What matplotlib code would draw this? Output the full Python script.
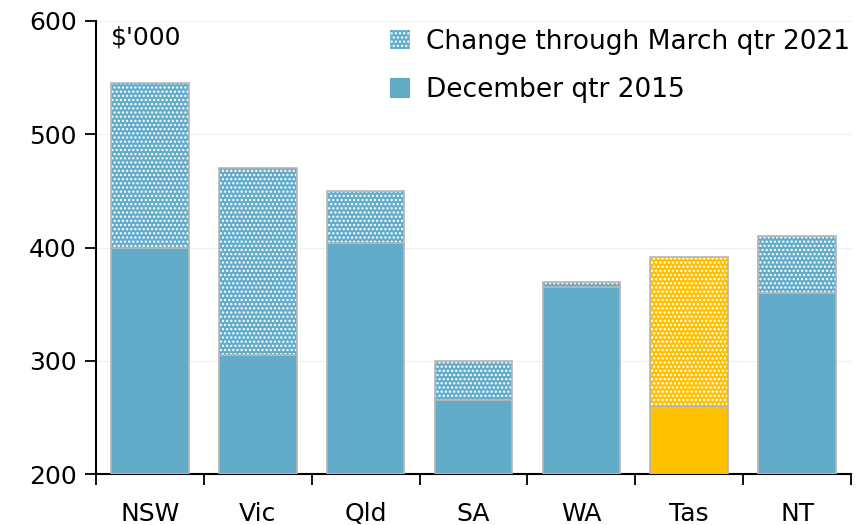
import numpy as np
import matplotlib
matplotlib.use("Agg")
import matplotlib.pyplot as plt
from matplotlib.patches import Patch

# datos
estados = ['NSW', 'Vic', 'Qld', 'SA', 'WA', 'Tas', 'NT']
dic_2015 = [400, 305, 404, 265, 365, 260, 360]
mar_2021 = [545, 470, 450, 300, 370, 392, 410]

azul = '#62acca'
amarillo = '#ffc000'
colores = [azul, azul, azul, azul, azul, amarillo, azul]

plt.rcParams['font.family'] = ['DejaVu Sans']
plt.rcParams['hatch.linewidth'] = 1.1

fig = plt.figure(figsize=(8.6, 5.25), dpi=100)
ax = fig.add_axes([0.1116, 0.097, 0.878, 0.863])

x = np.arange(len(estados))
cambio = np.array(mar_2021) - np.array(dic_2015)
base_y = 200

# base
ax.bar(x, np.array(dic_2015) - base_y, bottom=base_y, width=0.72, color=colores,
       edgecolor='#b5b5b5', linewidth=1.2, zorder=3)
# cambio punteado (hatch blanco)
ax.bar(x, cambio, bottom=dic_2015, width=0.72, color=colores,
       edgecolor='white', hatch='....', linewidth=0, zorder=3)
ax.bar(x, cambio, bottom=dic_2015, width=0.72, fill=False,
       edgecolor='#b5b5b5', linewidth=1.2, zorder=4)

ax.set_ylim(200, 600)
ax.set_xlim(-0.5, len(estados) - 0.5)
ax.set_yticks([200, 300, 400, 500, 600])
ax.yaxis.grid(True, color='#efefef', linewidth=0.8, zorder=0)
ax.set_axisbelow(True)

ax.set_xticks(x)
ax.set_xticklabels(estados)
ax.set_xticks(np.arange(-0.5, len(estados), 1), minor=True)
ax.tick_params(axis='x', which='major', length=0, pad=20, labelsize=18)
ax.tick_params(axis='x', which='minor', length=8, width=1.3, direction='out')
ax.tick_params(axis='y', length=8, width=1.3, labelsize=18, pad=6)

for s in ['top', 'right']:
    ax.spines[s].set_visible(False)
for s in ['left', 'bottom']:
    ax.spines[s].set_linewidth(1.5)

ax.text(0.02, 0.99, "$'000", transform=ax.transAxes, fontsize=18, va='top', ha='left')

h1 = Patch(facecolor=azul, edgecolor='white', hatch='....', linewidth=0)
h2 = Patch(facecolor=azul, edgecolor='none')
ax.legend([h1, h2], ['Change through March qtr 2021', 'December qtr 2015'],
          loc='upper right', bbox_to_anchor=(1.03, 1.035), frameon=False, fontsize=19,
          handlelength=0.75, handleheight=0.75, handletextpad=0.6, labelspacing=0.85)

fig.savefig('out.png', dpi=100)
